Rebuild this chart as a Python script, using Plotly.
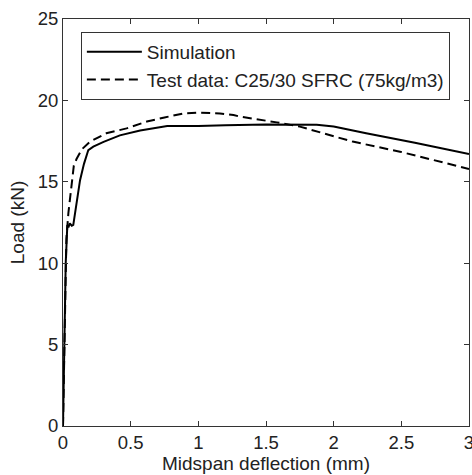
import plotly.graph_objects as go

sim_x = [0, 0.02, 0.032, 0.04, 0.05, 0.065, 0.076, 0.1, 0.126, 0.155, 0.187, 0.224, 0.3, 0.42, 0.57, 0.77, 1.0, 1.2, 1.5, 1.875, 2.0, 2.24, 2.6, 3.0]
sim_y = [0, 10.0, 12.35, 12.2, 12.45, 12.3, 12.35, 13.8, 15.1, 16.1, 16.95, 17.16, 17.45, 17.85, 18.15, 18.43, 18.43, 18.48, 18.52, 18.5, 18.4, 17.98, 17.4, 16.7]

test_x = [0, 0.025, 0.04, 0.064, 0.08, 0.1, 0.14, 0.2, 0.32, 0.47, 0.62, 0.75, 0.89, 1.0, 1.16, 1.26, 1.31, 1.58, 1.75, 2.14, 2.49, 3.0]
test_y = [0, 11.5, 13.1, 15.1, 16.0, 16.4, 17.0, 17.47, 17.98, 18.28, 18.7, 18.95, 19.2, 19.25, 19.2, 19.1, 19.0, 18.65, 18.39, 17.47, 16.85, 15.79]

x_ticks = [0, 0.5, 1, 1.5, 2, 2.5, 3]
x_ticklabels = ["0", "0.5", "1", "1.5", "2", "2.5", "3"]
y_ticks = [0, 5, 10, 15, 20, 25]

fig = go.Figure()
fig.add_trace(go.Scatter(x=sim_x, y=sim_y, mode="lines", name="Simulation",
                         line=dict(color="black", width=2)))
fig.add_trace(go.Scatter(x=test_x, y=test_y, mode="lines", name="Test data: C25/30 SFRC (75kg/m3)",
                         line=dict(color="black", width=2, dash="9px,5px")))

font = "Liberation Sans, Arial, sans-serif"
axis_common = dict(showgrid=False, zeroline=False, showline=True, linecolor="#333",
                   linewidth=1, mirror="ticks", ticks="inside", ticklen=5, automargin=False,
                   ticklabeloverflow="allow",
                   tickcolor="#333", tickfont=dict(family=font, size=18.5, color="#222"))
fig.update_layout(
    width=472, height=475,
    margin=dict(l=63, r=3, t=19, b=49),
    paper_bgcolor="white", plot_bgcolor="white",
    font=dict(family=font, color="#222"),
    xaxis=dict(range=[0, 3], tickvals=x_ticks, ticktext=x_ticklabels,
               title=dict(text="Midspan deflection (mm)", font=dict(family=font, size=19), standoff=2),
               **axis_common),
    yaxis=dict(range=[0, 25], tickvals=y_ticks,
               title=dict(text="Load (kN)", font=dict(family=font, size=19), standoff=8),
               **axis_common),
    legend=dict(x=0.044, y=0.968, xanchor="left", yanchor="top",
                bordercolor="#333", borderwidth=1, bgcolor="white",
                font=dict(family=font, size=19, color="#222"),
                tracegroupgap=0, itemwidth=55),
    showlegend=True,
)

fig.write_html("out.html", config={"displayModeBar": False},
               post_script="document.body.style.margin='0';")
